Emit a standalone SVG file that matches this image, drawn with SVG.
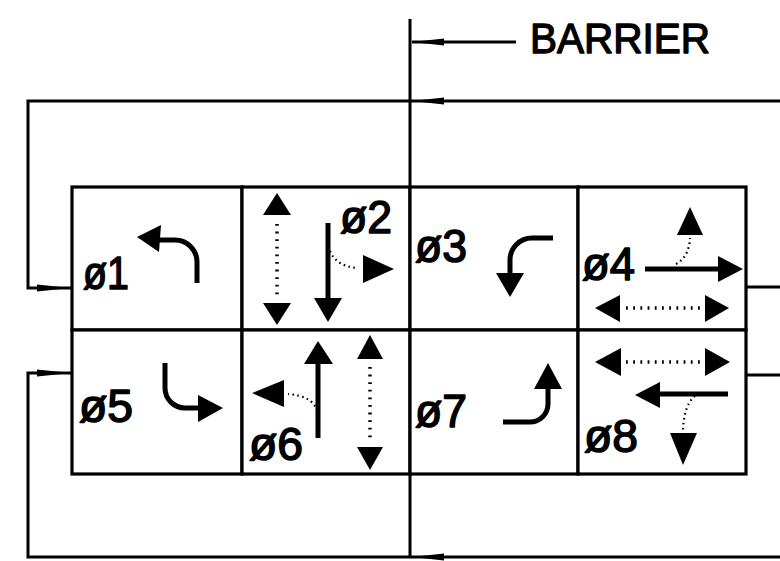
<svg xmlns="http://www.w3.org/2000/svg" width="780" height="561" viewBox="0 0 780 561">
<style>
.cell{fill:#fff;stroke:#000;stroke-width:3.2}
.lbl{font-family:"Liberation Sans",Arial,sans-serif;font-size:46px;fill:#000;stroke:#000;stroke-width:1.5;stroke-linejoin:round}
.bar{font-family:"Liberation Sans",Arial,sans-serif;font-size:42px;fill:#000;stroke:#000;stroke-width:1.4;stroke-linejoin:round}
.ln{fill:none;stroke:#000;stroke-width:3}
.mv{fill:none;stroke:#000;stroke-width:5}
.dv{fill:none;stroke:#000;stroke-width:3.5;stroke-dasharray:1.8 5.8}
.dc{fill:none;stroke:#000;stroke-width:2.2;stroke-dasharray:1.6 3.4}
.hd{fill:#000}
</style>
<rect width="780" height="561" fill="#fff"/>
<g id="connectors">
  <path class="ln" d="M410,19 V557"/>
  <path class="ln" d="M516,42 H412"/>
  <polygon class="hd" points="412,42 444,38.5 444,45.5"/>
  <path class="ln" d="M780,101 H28 V288 H72"/>
  <polygon class="hd" points="412,101 444,97.5 444,104.5"/>
  <polygon class="hd" points="71,288 37,284.5 37,291.5"/>
  <path class="ln" d="M780,557 H28 V373 H72"/>
  <polygon class="hd" points="412,557 444,553.5 444,560.5"/>
  <polygon class="hd" points="71,373 37,369.5 37,376.5"/>
  <path class="ln" d="M746,287 H780"/>
  <path class="ln" d="M746,375 H780"/>
</g>
<g id="barrier-label">
  <text class="bar" x="530" y="53" textLength="180" lengthAdjust="spacingAndGlyphs">BARRIER</text>
</g>
<g id="phase1">
  <rect class="cell" x="72" y="187" width="170" height="143"/>
  <text class="lbl" x="83" y="289" textLength="46" lengthAdjust="spacingAndGlyphs">ø1</text>
  <path class="mv" d="M197,283 V262 A22,22 0 0 0 175,240 H158"/>
  <polygon class="hd" points="137,237 161,225 159,252"/>
</g>
<g id="phase2">
  <rect class="cell" x="242" y="187" width="168" height="143"/>
  <text class="lbl" x="340" y="233" textLength="52" lengthAdjust="spacingAndGlyphs">ø2</text>
  <polygon class="hd" points="277,193 263,215 291,215"/>
  <path class="dv" d="M277,224 V296"/>
  <polygon class="hd" points="277,325 263,303 291,303"/>
  <path class="mv" d="M328,223 V300"/>
  <polygon class="hd" points="328,322 314,298 342,298"/>
  <path class="dc" d="M330,251 Q336,266 357,268"/>
  <polygon class="hd" points="394,269 363,255 363,283"/>
</g>
<g id="phase3">
  <rect class="cell" x="410" y="187" width="168" height="143"/>
  <text class="lbl" x="415" y="262" textLength="52" lengthAdjust="spacingAndGlyphs">ø3</text>
  <path class="mv" d="M553,238 H532 A22,22 0 0 0 510,260 V276"/>
  <polygon class="hd" points="510,297 496,273 524,273"/>
</g>
<g id="phase4">
  <rect class="cell" x="578" y="187" width="168" height="143"/>
  <text class="lbl" x="582" y="280" textLength="53" lengthAdjust="spacingAndGlyphs">ø4</text>
  <path class="mv" d="M645,269 H720"/>
  <polygon class="hd" points="743,269 718,256 718,282"/>
  <path class="dc" d="M676,264 Q689,257 690,238"/>
  <polygon class="hd" points="690,207 677,235 703,235"/>
  <polygon class="hd" points="595,308 620,295 620,322"/>
  <path class="dv" d="M626,308 H700" style="stroke-dasharray:1.8 5.4"/>
  <polygon class="hd" points="729,308 705,295 705,322"/>
</g>
<g id="phase5">
  <rect class="cell" x="72" y="330" width="170" height="144"/>
  <text class="lbl" x="79" y="422" textLength="54" lengthAdjust="spacingAndGlyphs">ø5</text>
  <path class="mv" d="M165,363 V388 A20,20 0 0 0 185,408 H200"/>
  <polygon class="hd" points="223,408 198,395 198,422"/>
</g>
<g id="phase6">
  <rect class="cell" x="242" y="330" width="168" height="144"/>
  <text class="lbl" x="249" y="460" textLength="54" lengthAdjust="spacingAndGlyphs">ø6</text>
  <path class="mv" d="M318,438 V360"/>
  <polygon class="hd" points="318,341 304,364 333,364"/>
  <path class="dc" d="M317,411 Q313,396 288,394"/>
  <polygon class="hd" points="252,393 284,380 284,407"/>
  <polygon class="hd" points="370,335 357,359 383,359"/>
  <path class="dv" d="M370,367 V440"/>
  <polygon class="hd" points="370,470 357,447 383,447"/>
</g>
<g id="phase7">
  <rect class="cell" x="410" y="330" width="168" height="144"/>
  <text class="lbl" x="415" y="427" textLength="52" lengthAdjust="spacingAndGlyphs">ø7</text>
  <path class="mv" d="M503,422 H530 A18,18 0 0 0 548,404 V386"/>
  <polygon class="hd" points="548,363 534,389 562,389"/>
</g>
<g id="phase8">
  <rect class="cell" x="578" y="330" width="168" height="144"/>
  <text class="lbl" x="584" y="452" textLength="54" lengthAdjust="spacingAndGlyphs">ø8</text>
  <polygon class="hd" points="595,362 621,348 621,376"/>
  <path class="dv" d="M626,362 H700" style="stroke-dasharray:1.8 5.4"/>
  <polygon class="hd" points="730,362 705,348 705,376"/>
  <path class="mv" d="M728,394 H657"/>
  <polygon class="hd" points="635,395 660,382 660,408"/>
  <path class="dc" d="M695,396 Q684,405 683,430"/>
  <polygon class="hd" points="683,465 670,433 697,433"/>
</g>
</svg>
